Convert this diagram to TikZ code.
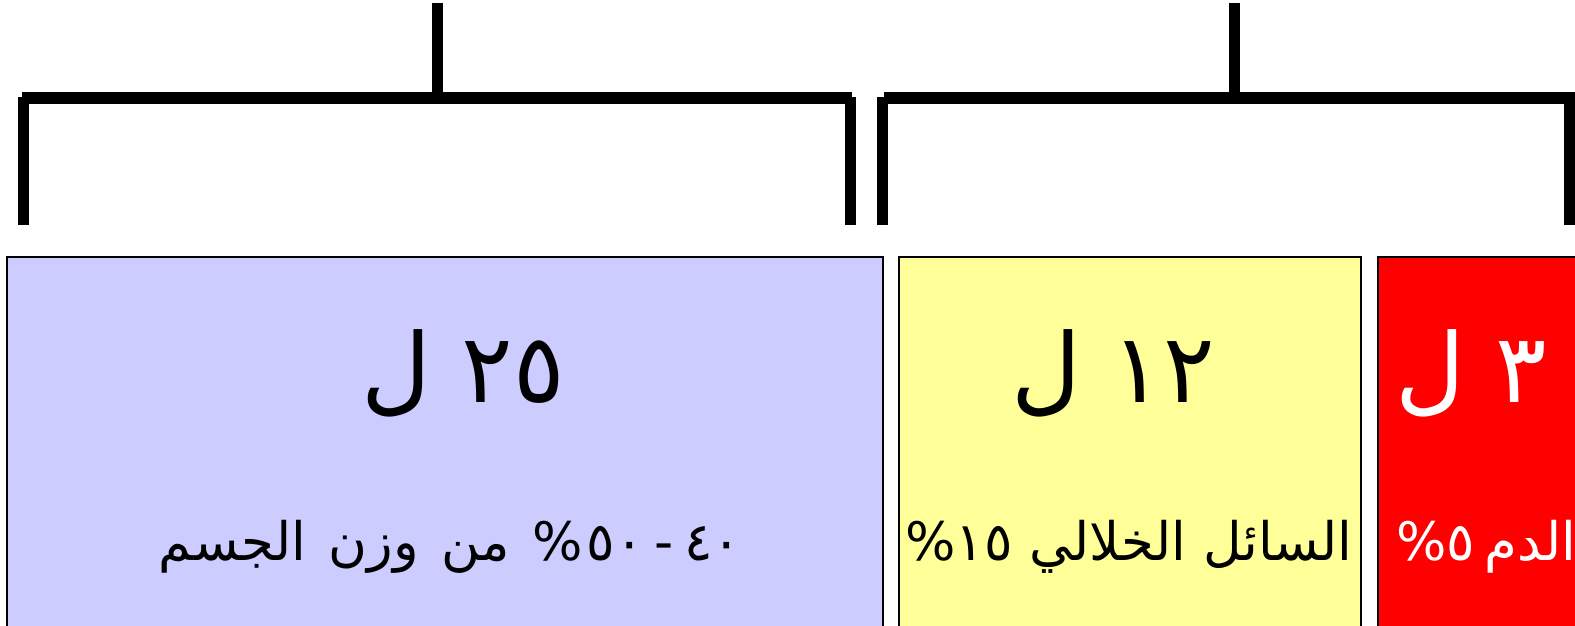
\documentclass[tikz,border=0pt]{standalone}
\usepackage{fontspec}
\TeXXeTstate=1
\newfontfamily\arabicfont[Script=Arabic]{DejaVu Sans}
\definecolor{boxblue}{HTML}{CCCCFF}
\definecolor{boxyellow}{HTML}{FFFF99}
\definecolor{boxred}{HTML}{FF0000}
\begin{document}
\begin{tikzpicture}[x=1pt,y=-1pt,
  brk/.style={line width=11pt},
  boxframe/.style={draw=black,line width=1.5pt},
  bigtxt/.style={font=\fontsize{96}{110}\selectfont\arabicfont, anchor=base, inner sep=0pt},
  smalltxt/.style={font=\fontsize{53}{60}\selectfont\arabicfont, anchor=base, inner sep=0pt}]
\useasboundingbox (0,0) rectangle (1575,626);
\clip (0,0) rectangle (1575,626);
% brackets
\draw[brk] (437,3) -- (437,93);
\draw[brk] (22,98) -- (852,98);
\draw[brk] (23,97) -- (23,225);
\draw[brk] (850.5,97) -- (850.5,225);
\draw[brk] (1234,3) -- (1234,93);
\draw[brk] (884,98) -- (1580,98);
\draw[brk] (882.5,97) -- (882.5,225);
\draw[brk] (1569,97) -- (1569,225);
% boxes
\filldraw[boxframe,fill=boxblue] (7,257) rectangle (883,660);
\filldraw[boxframe,fill=boxyellow] (899,257) rectangle (1361,660);
\filldraw[boxframe,fill=boxred] (1378,257) rectangle (1700,660);
% texts
\node[bigtxt] (bluebig) at (463,402) {\beginR\beginL ٢٥\endL{} ل\endR};
\node[smalltxt] (bluesmall) at (450,560) {\spaceskip=0.42em\beginR\beginL ٤٠\endL\hspace{0.2em}-\hspace{0.2em}\beginL ٥٠\endL\hspace{0.08em}\% من وزن الجسم\endR};
\node[bigtxt] (yelbig) at (1113,402) {\beginR\beginL ١٢\endL{} ل\endR};
\node[smalltxt] (yelsmall) at (1129,560) {\beginR السائل الخلالي \beginL ١٥\endL\%\endR};
\node[bigtxt,text=white] (redbig) at (1471,402) {\beginR\beginL ٣\endL{} ل\endR};
\node[smalltxt,text=white,anchor=base west] (redsmall) at (1396,560) {\spaceskip=0.18em\beginR الدم \beginL ٥\endL\%\endR};
\end{tikzpicture}
\end{document}
